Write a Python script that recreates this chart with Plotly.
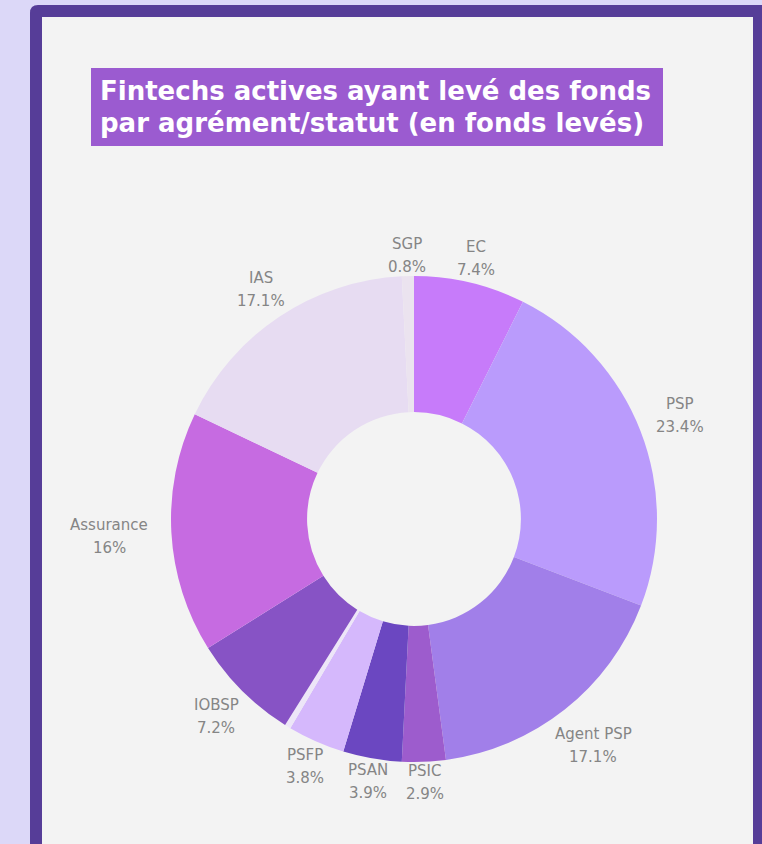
import math
import plotly.graph_objects as go

W, H = 762, 844

categories = ["EC", "PSP", "Agent PSP", "PSIC", "PSAN", "PSFP", "Autre", "IOBSP", "Assurance", "IAS", "SGP"]
values = [7.4, 23.4, 17.1, 2.9, 3.9, 3.8, 0.4, 7.2, 16.0, 17.1, 0.8]
pct_labels = ["7.4%", "23.4%", "17.1%", "2.9%", "3.9%", "3.8%", "", "7.2%", "16%", "17.1%", "0.8%"]
colors = ["#c77bfa", "#ba9bfc", "#a17fe9", "#9d5ccd", "#6b47c1", "#d5b8fc", "#ede6f8",
          "#8753c5", "#c66be1", "#e7dcf2", "#ebe3ef"]

title_lines = ["Fintechs actives ayant levé des fonds", "par agrément/statut (en fonds levés)"]


def px(x):
    return x / W


def py(y):
    return 1 - y / H


cx, cy = 414, 519
R_pie = 243

donut = go.Pie(
    labels=categories,
    values=values,
    textinfo="none",
    hole=0.44,
    sort=False,
    direction="clockwise",
    rotation=0,
    marker=dict(colors=colors, line=dict(width=0)),
    hoverinfo="label+value",
    showlegend=False,
    domain=dict(x=[px(cx - R_pie), px(cx + R_pie)], y=[py(cy + R_pie), py(cy - R_pie)]),
)

fig = go.Figure(donut)

shapes = [
    dict(type="path", xref="paper", yref="paper", layer="below",
         path=(f"M {px(30)},{py(900)} L {px(30)},{py(13)} Q {px(30)},{py(5)} {px(38)},{py(5)} "
               f"L {px(800)},{py(5)} L {px(800)},{py(900)} Z"),
         fillcolor="#563d98", line=dict(width=0)),
    dict(type="rect", xref="paper", yref="paper", layer="below",
         x0=px(42), x1=px(753), y0=py(900), y1=py(17),
         fillcolor="#f3f3f3", line=dict(width=0)),
    dict(type="rect", xref="paper", yref="paper", layer="below",
         x0=px(91), x1=px(663), y0=py(146), y1=py(68),
         fillcolor="#9b5bd0", line=dict(width=0)),
]

annotations = []
for i, line in enumerate(title_lines):
    annotations.append(dict(
        text=line, xref="paper", yref="paper", x=px(98), y=py(91 + 32 * i),
        xanchor="left", yanchor="middle", showarrow=False,
        font=dict(family="DejaVu Sans", size=26, color="white", weight=700)))

# data labels placed radially at the middle angle of each slice
total = sum(values)
cum = 0.0
lab_font = dict(family="DejaVu Sans", size=15, color="#858585")
for name, pct, v in zip(categories, pct_labels, values):
    mid = (cum + v / 2) / total * 2 * math.pi
    cum += v
    if not pct:
        continue
    hw = 4.7 * max(len(name), len(pct))
    r = 263 + abs(math.sin(mid)) * hw
    xc = cx + r * math.sin(mid)
    yc = cy - r * math.cos(mid)
    for txt, dy in ((name, -11.5), (pct, 11.5)):
        annotations.append(dict(
            text=txt, xref="paper", yref="paper", x=px(xc), y=py(yc + dy),
            xanchor="center", yanchor="middle", showarrow=False, font=lab_font))

fig.update_layout(
    width=W, height=H,
    margin=dict(l=0, r=0, t=0, b=0),
    paper_bgcolor="#dcd8f8",
    plot_bgcolor="#dcd8f8",
    shapes=shapes,
    annotations=annotations,
)

fig.write_html(
    "out.html",
    config={"displayModeBar": False},
    post_script="document.body.style.margin='0';document.body.style.background='#dcd8f8';",
)
